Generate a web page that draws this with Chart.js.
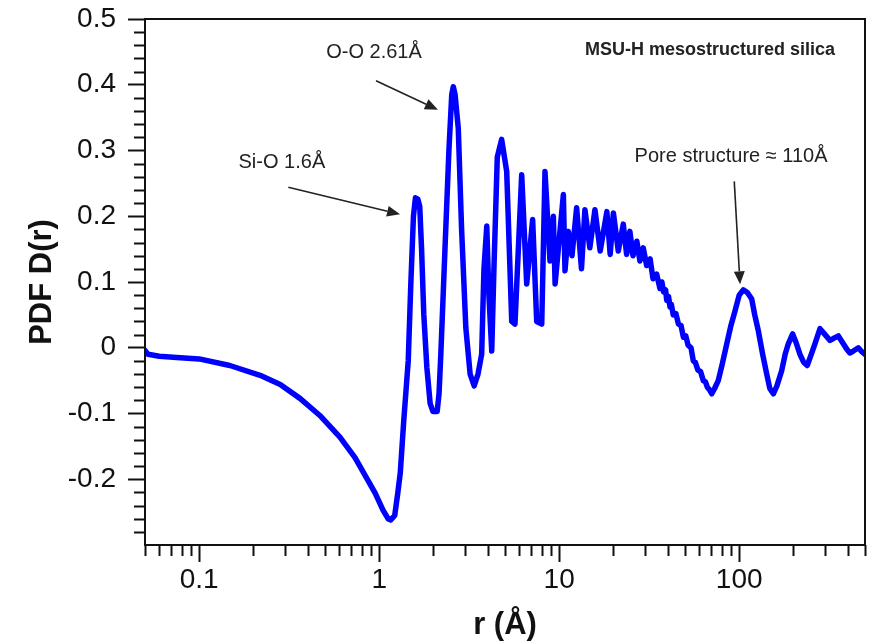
<!DOCTYPE html>
<html>
<head>
<meta charset="utf-8">
<title>PDF D(r)</title>
<script src="https://cdn.jsdelivr.net/npm/chart.js@4/dist/chart.umd.min.js"></script>
<style>
  html, body { margin: 0; padding: 0; background: #fff; }
  canvas { display: block; }
</style>
</head>
<body>
<canvas id="pdfChart" width="877" height="644"></canvas>
<script>
// r in Å, D(r)
const rValues = [
  0.05, 0.052, 0.06, 0.075, 0.1, 0.148, 0.218, 0.282, 0.363, 0.468,
  0.605, 0.734, 0.835, 0.95, 1.05, 1.12, 1.16, 1.22, 1.27, 1.31,
  1.37, 1.45, 1.5, 1.55, 1.59, 1.64, 1.68, 1.72, 1.77, 1.84,
  1.92, 1.99, 2.1, 2.15, 2.2, 2.32, 2.44, 2.53, 2.58, 2.64,
  2.75, 2.87, 3.03, 3.2, 3.37, 3.54, 3.71, 3.82, 3.96, 4.07,
  4.22, 4.34, 4.53, 4.79, 5.11, 5.45, 5.68, 6.19, 6.6, 7.12,
  7.5, 8.0, 8.34, 8.89, 9.28, 9.49, 10.55, 10.77, 11.24, 11.78,
  12.5, 13.3, 13.9, 14.8, 15.8, 16.9, 18.4, 19.2, 20.0, 21.3,
  22.7, 23.7, 24.7, 25.7, 27.0, 28.1, 29.3, 30.6, 32.0, 33.2,
  34.8, 36.3, 37.2, 38.0, 39.0, 39.6, 40.5, 41.3, 42.0, 43.0,
  44.5, 46.0, 47.5, 49.0, 50.5, 52.0, 54.0, 55.6, 57.0, 59.0,
  61.0, 63.2, 65.0, 66.5, 68.5, 70.4, 73.0, 76.5, 80.5, 85.3,
  90.0, 94.8, 100, 105.4, 111, 117.4, 122, 127.7, 135, 142.2,
  148, 154.8, 162, 172.2, 180, 187.5, 198.2, 207, 217.6, 228,
  238.8, 250, 263.5, 281.2, 300, 319.7, 338, 355.6, 375, 395.6,
  412, 430.5, 459.2, 480, 500
];
const pdfValues = [
  -0.004, -0.01, -0.013, -0.015, -0.017, -0.027, -0.042, -0.056, -0.077, -0.103,
  -0.136, -0.167, -0.194, -0.221, -0.247, -0.26, -0.262, -0.255, -0.22, -0.19,
  -0.11, -0.02, 0.1, 0.2, 0.228, 0.226, 0.215, 0.15, 0.05, -0.03,
  -0.085, -0.097, -0.097, -0.07, -0.01, 0.15, 0.3, 0.385, 0.397, 0.385,
  0.334, 0.18, 0.03, -0.04, -0.058, -0.04, -0.01, 0.12, 0.185, 0.08,
  -0.005, 0.12, 0.29, 0.317, 0.268, 0.04, 0.036, 0.263, 0.097, 0.195,
  0.04, 0.036, 0.268, 0.132, 0.2, 0.097, 0.233, 0.117, 0.177, 0.14,
  0.213, 0.12, 0.21, 0.152, 0.21, 0.147, 0.207, 0.142, 0.205, 0.147,
  0.188, 0.142, 0.177, 0.14, 0.162, 0.132, 0.152, 0.125, 0.135, 0.105,
  0.112, 0.09, 0.1, 0.085, 0.088, 0.072, 0.078, 0.062, 0.066, 0.05,
  0.052, 0.036, 0.034, 0.016, 0.018, 0.004, 0.0, -0.02, -0.022, -0.034,
  -0.036, -0.05, -0.052, -0.06, -0.064, -0.07, -0.062, -0.05, -0.025, 0.006,
  0.034, 0.056, 0.08, 0.088, 0.084, 0.074, 0.05, 0.026, -0.01, -0.04,
  -0.062, -0.07, -0.058, -0.035, -0.01, 0.006, 0.021, 0.008, -0.01, -0.022,
  -0.027, -0.012, 0.006, 0.029, 0.02, 0.011, 0.015, 0.018, 0.008, -0.002,
  -0.008, -0.005, 0.0, -0.006, -0.01
];

const xMajorTicks = [0.1, 1, 10, 100];
const yMajorTicks = [-0.2, -0.1, 0, 0.1, 0.2, 0.3, 0.4, 0.5];

// peak labels with arrows, given in data coordinates (r, D)
const notes = [
  { text: 'O-O 2.61Å', label: [0.936, 0.44], from: [0.96, 0.406], to: [2.12, 0.362] },
  { text: 'Si-O 1.6Å', label: [0.288, 0.273], from: [0.3126, 0.244], to: [1.306, 0.203] },
  { text: 'Pore structure ≈ 110Å', label: [90.1, 0.283], from: [93.9, 0.253], to: [101.1, 0.0965] }
];
const sampleName = 'MSU-H mesostructured silica';

const FONT = '"Liberation Sans", Arial, Helvetica, sans-serif';
const INK = '#111';

// closed frame, minor ticks and the text notes
const decorations = {
  id: 'decorations',
  afterDraw(chart) {
    const { ctx, chartArea: a, scales: { x, y } } = chart;
    ctx.save();
    ctx.strokeStyle = INK;
    ctx.lineWidth = 2;
    ctx.strokeRect(a.left, a.top, a.right - a.left, a.bottom - a.top);

    ctx.lineWidth = 2;
    ctx.beginPath();
    for (let e = -2; e <= 2; e++) {
      for (let m = 2; m <= 9; m++) {
        const v = m * Math.pow(10, e);
        if (v < x.min * 0.999 || v > x.max * 1.001) continue;
        const px = Math.round(x.getPixelForValue(v)) + 0.5;
        ctx.moveTo(px, a.bottom);
        ctx.lineTo(px, a.bottom + 11);
      }
    }
    for (let i = -15; i <= 25; i++) {
      if (i % 5 === 0) continue;
      const py = Math.round(y.getPixelForValue(i * 0.02)) + 0.5;
      ctx.moveTo(a.left, py);
      ctx.lineTo(a.left - 11, py);
    }
    ctx.stroke();

    ctx.fillStyle = '#222';
    ctx.strokeStyle = '#222';
    ctx.font = '20px ' + FONT;
    ctx.textAlign = 'center';
    ctx.textBaseline = 'alphabetic';
    notes.forEach(n => {
      ctx.fillText(n.text, x.getPixelForValue(n.label[0]), y.getPixelForValue(n.label[1]));
      const x1 = x.getPixelForValue(n.from[0]), y1 = y.getPixelForValue(n.from[1]);
      const x2 = x.getPixelForValue(n.to[0]), y2 = y.getPixelForValue(n.to[1]);
      const ang = Math.atan2(y2 - y1, x2 - x1);
      const head = 13, half = 5.5;
      ctx.lineWidth = 1.6;
      ctx.beginPath();
      ctx.moveTo(x1, y1);
      ctx.lineTo(x2 - head * Math.cos(ang), y2 - head * Math.sin(ang));
      ctx.stroke();
      ctx.beginPath();
      ctx.moveTo(x2, y2);
      ctx.lineTo(x2 - head * Math.cos(ang) + half * Math.sin(ang), y2 - head * Math.sin(ang) - half * Math.cos(ang));
      ctx.lineTo(x2 - head * Math.cos(ang) - half * Math.sin(ang), y2 - head * Math.sin(ang) + half * Math.cos(ang));
      ctx.closePath();
      ctx.fill();
    });

    ctx.font = 'bold 18px ' + FONT;
    ctx.textAlign = 'right';
    ctx.fillText(sampleName, x.getPixelForValue(340.7), y.getPixelForValue(0.445));
    ctx.restore();
  }
};

// keep the plot box fixed: no extra room reserved for edge labels
const noEdgePadding = s => {
  s.paddingTop = 0;
  s.paddingBottom = 0;
  s.paddingLeft = 0;
  s.paddingRight = 0;
};

new Chart(document.getElementById('pdfChart'), {
  type: 'line',
  data: {
    labels: rValues,
    datasets: [{
      data: rValues.map((r, i) => ({ x: r, y: pdfValues[i] })),
      borderColor: '#0000ff',
      borderWidth: 5.5,
      borderJoinStyle: 'round',
      borderCapStyle: 'round',
      pointRadius: 0,
      tension: 0,
      fill: false
    }]
  },
  options: {
    responsive: false,
    animation: false,
    layout: { padding: { top: 19, right: 12, left: 0, bottom: 0 } },
    plugins: { legend: { display: false }, tooltip: { enabled: false } },
    scales: {
      x: {
        type: 'logarithmic',
        min: 0.05,
        max: 500,
        afterBuildTicks: s => { s.ticks = xMajorTicks.map(v => ({ value: v, major: true })); },
        afterFit: s => { s.height = 99; noEdgePadding(s); },
        grid: { drawOnChartArea: false, tickLength: 17, tickWidth: 2, tickColor: INK },
        border: { display: true, color: INK, width: 2 },
        ticks: {
          autoSkip: false, maxRotation: 0, padding: 1, color: INK,
          font: { family: FONT, size: 28 },
          callback: v => String(v)
        },
        title: {
          display: true, text: 'r (Å)', color: INK,
          font: { family: FONT, size: 31, weight: 'bold' },
          padding: { top: 0, bottom: 0 }
        }
      },
      y: {
        min: -0.3,
        max: 0.5,
        afterBuildTicks: s => { s.ticks = yMajorTicks.map(v => ({ value: v })); },
        afterFit: s => { s.width = 145; noEdgePadding(s); },
        grid: { drawOnChartArea: false, tickLength: 17, tickWidth: 2, tickColor: INK },
        border: { display: true, color: INK, width: 2 },
        ticks: {
          padding: 12, color: INK,
          font: { family: FONT, size: 28 },
          callback: v => (Math.abs(v) < 1e-9 ? '0' : v.toFixed(1))
        },
        title: {
          display: true, text: 'PDF D(r)', color: INK,
          font: { family: FONT, size: 31, weight: 'bold' },
          padding: { top: 24, bottom: 0 }
        }
      }
    }
  },
  plugins: [decorations]
});
</script>
</body>
</html>
